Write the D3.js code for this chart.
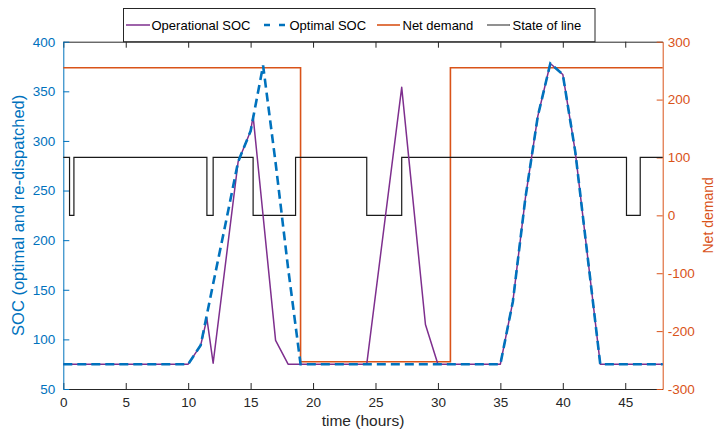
<!DOCTYPE html>
<html>
<head>
<meta charset="utf-8">
<script src="https://cdn.jsdelivr.net/npm/d3@7"></script>
<style>
  html, body { margin: 0; padding: 0; background: #fff; }
  svg { display: block; font-family: "Liberation Sans", Arial, sans-serif; }
</style>
</head>
<body>
<svg id="chart" width="717" height="431"></svg>
<script>
// Operational state of charge (re-dispatched)
const operTime = [0, 10, 11, 11.5, 12, 14, 15, 15.2, 17, 18, 24.3, 27.1, 29, 30, 35, 36, 37, 38, 39, 40, 41, 42, 43, 48];
const operSOC  = [75, 75, 94, 121, 76, 279, 310, 325, 99, 75, 75, 354, 115, 75, 75, 138, 242, 325, 378, 367, 289, 182, 75, 75];

// Optimal state of charge
const optTime = [0, 10, 11, 12, 13, 14, 15, 16, 17, 18, 19, 35, 36, 37, 38, 39, 40, 41, 42, 43, 48];
const optSOC  = [75, 75, 94, 156, 217, 279, 310, 376, 278, 172, 75, 75, 138, 242, 325, 378, 367, 289, 182, 75, 75];

// Net demand (step-after)
const netTime   = [0, 19, 31, 48];
const netDemand = [255, -253, 255, 255];

// State of line (step-after)
const lineTime  = [0, 0.5, 0.85, 11.5, 12, 15.2, 18.6, 24.3, 27.1, 45.1, 46.2, 48];
const lineState = [100, 0, 100, 0, 100, 0, 100, 0, 100, 0, 100, 100];

// Axis ticks
const xTicks = [0, 5, 10, 15, 20, 25, 30, 35, 40, 45];
const yLeftTicks = [50, 100, 150, 200, 250, 300, 350, 400];
const yRightTicks = [-300, -200, -100, 0, 100, 200, 300];

const legendLabels = ["Operational SOC", "Optimal SOC", "Net demand", "State of line"];

const C_PURPLE = "#7E2F8E", C_BLUE = "#0072BD", C_ORANGE = "#D95319", C_BLACK = "#1a1a1a", C_AXIS = "#262626";

const plotL = 63.3, plotR = 662.7, plotT = 41.7, plotB = 389;

const svg = d3.select("#chart");

const x = d3.scaleLinear().domain([0, 48]).range([plotL, plotR]);
const yL = d3.scaleLinear().domain([50, 400]).range([plotB, plotT]);
const yR = d3.scaleLinear().domain([-300, 300]).range([plotB, plotT]);

const zip = (a, b) => a.map((t, i) => [t, b[i]]);

// Axes
const tickFont = 13.5;
function styleAxis(g, color) {
  g.selectAll("path.domain").attr("stroke", color).attr("stroke-width", 1);
  g.selectAll(".tick line").attr("stroke", color).attr("stroke-width", 1);
  g.selectAll(".tick text").attr("fill", color).style("font-size", tickFont + "px").style("font-family", "Liberation Sans, Arial, sans-serif");
}

const xAxisB = svg.append("g").attr("transform", `translate(0,${plotB})`)
  .call(d3.axisBottom(x).tickValues(xTicks).tickSize(-6).tickSizeOuter(0).tickPadding(8).tickFormat(d3.format("d")));
styleAxis(xAxisB, C_AXIS);

const xAxisT = svg.append("g").attr("transform", `translate(0,${plotT})`)
  .call(d3.axisTop(x).tickValues(xTicks).tickSize(-6).tickSizeOuter(0).tickFormat(""));
styleAxis(xAxisT, C_AXIS);

const yAxisL = svg.append("g").attr("transform", `translate(${plotL},0)`)
  .call(d3.axisLeft(yL).tickValues(yLeftTicks).tickSize(-6).tickSizeOuter(0).tickPadding(8));
styleAxis(yAxisL, C_BLUE);

const yAxisR = svg.append("g").attr("transform", `translate(${plotR},0)`)
  .call(d3.axisRight(yR).tickValues(yRightTicks).tickSize(-6).tickSizeOuter(0).tickPadding(5)
    .tickFormat(d => d < 0 ? "-" + Math.abs(d) : String(d)));
styleAxis(yAxisR, C_ORANGE);

// Axis titles
svg.append("text").attr("x", (plotL + plotR) / 2).attr("y", 426)
  .attr("text-anchor", "middle").attr("fill", C_AXIS).style("font-size", "15.5px").text("time (hours)");
svg.append("text").attr("transform", `translate(24,${(plotT + plotB) / 2}) rotate(-90)`)
  .attr("text-anchor", "middle").attr("fill", C_BLUE).style("font-size", "16.5px").text("SOC (optimal and re-dispatched)");
svg.append("text").attr("transform", `translate(713,${(plotT + plotB) / 2}) rotate(-90)`)
  .attr("text-anchor", "middle").attr("fill", C_ORANGE).style("font-size", "14px").text("Net demand");

// Series
const plot = svg.append("g");
const stepR = d3.line().x(d => x(d[0])).y(d => yR(d[1])).curve(d3.curveStepAfter);
const lineL = d3.line().x(d => x(d[0])).y(d => yL(d[1]));

plot.append("path").datum(zip(netTime, netDemand)).attr("d", stepR)
  .attr("fill", "none").attr("stroke", C_ORANGE).attr("stroke-width", 1.6);
plot.append("path").datum(zip(lineTime, lineState)).attr("d", stepR)
  .attr("fill", "none").attr("stroke", C_BLACK).attr("stroke-width", 1.2);
plot.append("path").datum(zip(operTime, operSOC)).attr("d", lineL)
  .attr("fill", "none").attr("stroke", C_PURPLE).attr("stroke-width", 1.5).attr("stroke-linejoin", "round");
plot.append("path").datum(zip(optTime, optSOC)).attr("d", lineL)
  .attr("fill", "none").attr("stroke", C_BLUE).attr("stroke-width", 2.6).attr("stroke-dasharray", "9,5");

// Legend
const leg = svg.append("g");
leg.append("rect").attr("x", 123.5).attr("y", 8.5).attr("width", 471.5).attr("height", 33.2)
  .attr("fill", "#fff").attr("stroke", C_AXIS).attr("stroke-width", 1);
const legItems = [
  { x0: 126, x1: 150, tx: 151.5, color: C_PURPLE, w: 1.5, dash: null },
  { x0: 264, x1: 287, tx: 289.5, color: C_BLUE, w: 2.6, dash: "6,9" },
  { x0: 377, x1: 400, tx: 402.5, color: C_ORANGE, w: 1.6, dash: null },
  { x0: 487, x1: 510, tx: 512.5, color: "#555", w: 1.3, dash: null }
];
legItems.forEach((it, i) => {
  leg.append("line").attr("x1", it.x0).attr("x2", it.x1).attr("y1", 25).attr("y2", 25)
    .attr("stroke", it.color).attr("stroke-width", it.w).attr("stroke-dasharray", it.dash);
  leg.append("text").attr("x", it.tx).attr("y", 29.6).attr("fill", "#000")
    .style("font-size", "13px").text(legendLabels[i]);
});
</script>
</body>
</html>
